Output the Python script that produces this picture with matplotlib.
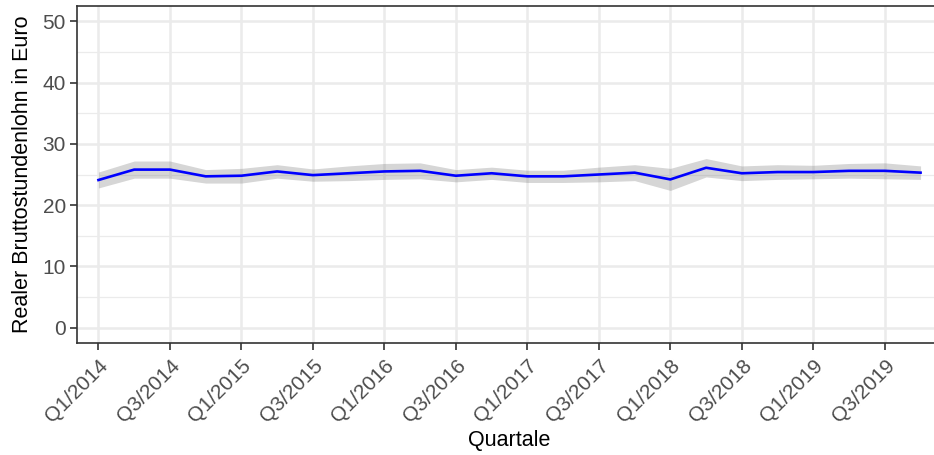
import matplotlib
matplotlib.use("Agg")
import matplotlib.pyplot as plt
from matplotlib.ticker import MultipleLocator

plt.rcParams['font.family'] = ['Liberation Sans', 'DejaVu Sans']

# quarterly real gross hourly wage (mean) with confidence band
quartale = [
    "Q1/2014", "Q2/2014", "Q3/2014", "Q4/2014",
    "Q1/2015", "Q2/2015", "Q3/2015", "Q4/2015",
    "Q1/2016", "Q2/2016", "Q3/2016", "Q4/2016",
    "Q1/2017", "Q2/2017", "Q3/2017", "Q4/2017",
    "Q1/2018", "Q2/2018", "Q3/2018", "Q4/2018",
    "Q1/2019", "Q2/2019", "Q3/2019", "Q4/2019",
]
lohn = [24.1, 25.8, 25.8, 24.7, 24.8, 25.5, 24.9, 25.2, 25.5, 25.6, 24.8, 25.2,
        24.7, 24.7, 25.0, 25.3, 24.2, 26.1, 25.2, 25.4, 25.4, 25.6, 25.6, 25.3]
lohn_unten = [22.8, 24.4, 24.4, 23.6, 23.6, 24.4, 23.9, 24.0, 24.2, 24.3, 23.8, 24.2,
              23.7, 23.7, 23.8, 24.0, 22.4, 24.6, 24.0, 24.2, 24.3, 24.4, 24.3, 24.2]
lohn_oben = [25.4, 27.2, 27.2, 25.8, 26.0, 26.6, 25.9, 26.4, 26.8, 26.9, 25.8, 26.2,
             25.7, 25.7, 26.2, 26.6, 26.0, 27.6, 26.4, 26.6, 26.5, 26.8, 26.9, 26.4]

x = list(range(len(quartale)))

fig = plt.figure(figsize=(9.34, 4.55), dpi=100)
ax = fig.add_axes([77 / 934, 112 / 455, 865 / 934, 337 / 455])

ax.fill_between(x, lohn_unten, lohn_oben, color="grey", alpha=0.32, linewidth=0, zorder=2)
ax.plot(x, lohn, color="#0000FF", linewidth=1.9, zorder=3)

ax.set_xlim(-0.6, len(quartale) - 1 + 0.6)
ax.set_ylim(-2.5, 52.5)
ax.set_xticks(x[::2])
ax.set_xticklabels(quartale[::2], rotation=45, ha="right", va="top",
                   rotation_mode="anchor", color="#4D4D4D", fontsize=15)
ax.yaxis.set_major_locator(MultipleLocator(10))
ax.yaxis.set_minor_locator(MultipleLocator(5))
ax.tick_params(axis="y", labelsize=15, labelcolor="#4D4D4D", pad=3)
ax.tick_params(axis="x", pad=4)
ax.tick_params(which="major", length=5, width=1.2, color="#333333")
ax.tick_params(which="minor", length=0)

ax.grid(which="major", color="#EBEBEB", linewidth=1.8, zorder=0)
ax.grid(which="minor", axis="y", color="#EBEBEB", linewidth=0.9, zorder=0)
ax.set_axisbelow(True)

for s in ax.spines.values():
    s.set_color("#333333")
    s.set_linewidth(1.2)

ax.set_xlabel("Quartale", fontsize=15.5, labelpad=3)
ax.set_ylabel("Realer Bruttostundenlohn in Euro", fontsize=15.5, labelpad=7)

fig.savefig("out.png", dpi=100)
